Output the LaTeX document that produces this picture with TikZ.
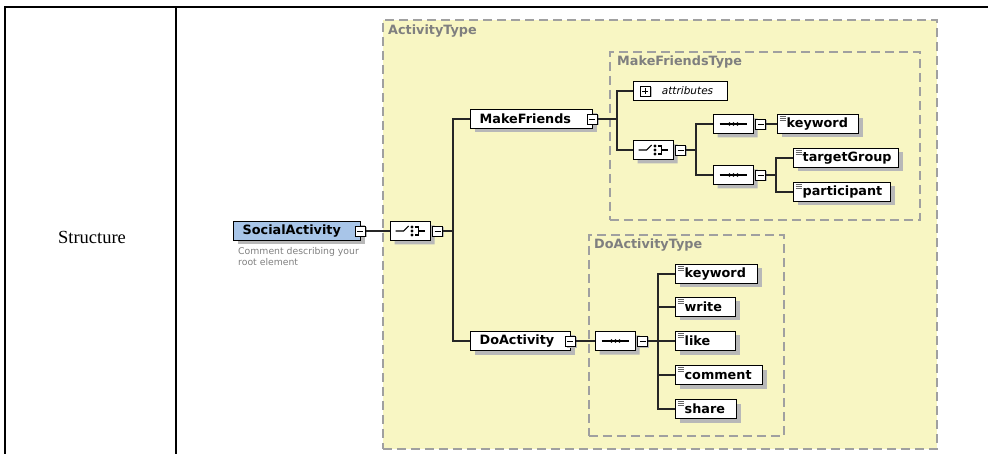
\documentclass[tikz,border=0pt]{standalone}
\usepackage{fontspec}
\setmainfont{Liberation Serif}
\newfontfamily\xsdfont{DejaVu Sans}
\usepackage{tikz}
\usetikzlibrary{shapes.misc,positioning,shadows}
\definecolor{panel}{HTML}{F8F6C3}
\definecolor{dashgray}{HTML}{A0A0A0}
\definecolor{shade}{HTML}{B8B8B8}
\definecolor{rootblue}{HTML}{A8C5E8}
\definecolor{labelgray}{HTML}{7F7F7F}
\newcommand{\leafmark}[1]{%
    % #1=element node, three short bars in its corner
    \foreach \k in {0,1,2}
        \draw[labelgray!80!black, line width=0.9pt] ([shift={(2.5,2.5+2*\k)}]#1.north west) -- ++(6,0);
}

\begin{document}
\begin{tikzpicture}[x=1pt, y=-1pt,
    elem/.style={rectangle, draw, fill=white, line width=1.3pt, anchor=west, text width=#1, align=left, minimum height=19pt, inner ysep=0pt, inner xsep=9pt, font=\xsdfont\bfseries\fontsize{12.8}{14}\selectfont, general shadow={fill=shade, shadow xshift=4pt, shadow yshift=-4pt}},
    attrbox/.style={rectangle, draw, fill=white, line width=1.1pt, anchor=west, minimum width=94pt, minimum height=19pt, inner sep=0pt, font=\xsdfont\itshape\fontsize{10.5}{12}\selectfont},
    minusbox/.style={rectangle, draw, fill=white, line width=0.9pt, minimum size=10pt, inner sep=0pt, general shadow={fill=shade, shadow xshift=1.5pt, shadow yshift=-1.5pt}, path picture={\draw[line width=0.9pt] ([xshift=2pt]path picture bounding box.west) -- ([xshift=-2pt]path picture bounding box.east);}},
    plusbox/.style={minusbox, path picture={\draw[line width=0.9pt] ([xshift=2pt]path picture bounding box.west) -- ([xshift=-2pt]path picture bounding box.east); \draw[line width=0.9pt] ([yshift=-2pt]path picture bounding box.north) -- ([yshift=2pt]path picture bounding box.south);}},
    compbox/.style={chamfered rectangle, chamfered rectangle xsep=7pt, draw, fill=white, line width=1.1pt, anchor=west, minimum width=40pt, minimum height=19pt, inner sep=0pt, general shadow={fill=shade, shadow xshift=4pt, shadow yshift=-4pt}},
    seqbox/.style={compbox, path picture={
        \begin{scope}[shift={(path picture bounding box.center)}]
            \draw[line width=1.2pt] (-14,0) -- (13,0);
            \foreach \d in {-4,0,4} \fill[black] (\d,0) circle (1.9pt);
        \end{scope}}},
    choicebox/.style={compbox, path picture={
        \begin{scope}[shift={(path picture bounding box.center)}, line width=1.1pt]
            \draw (-15,0) -- (-7,0) -- (-2,-5);
            \foreach \d in {-4,0,4} \fill[black] (1.5,\d) circle (1.6pt);
            \draw (4,-4) -- (8,-4) -- (8,4) -- (4,4);
            \draw (8,0) -- (14,0);
        \end{scope}}},
    typebox/.style={rectangle, draw=dashgray, line width=1.6pt, dash pattern=on 9pt off 5pt, anchor=north west, inner sep=0pt},
    typelabel/.style={anchor=north west, inner sep=0pt, text=labelgray, font=\xsdfont\bfseries\fontsize{12.8}{14}\selectfont},
    note/.style={anchor=north west, inner sep=0pt, align=left, text=labelgray, font=\xsdfont\fontsize{9.3}{11.5}\selectfont},
    link/.style={line width=1.3pt, black!85}
]
    \useasboundingbox (0,0) rectangle (988,454);

    % Table frame
    \draw[line width=2pt] (4,7) -- (988,7);
    \draw[line width=2pt] (5,7) -- (5,454);
    \draw[line width=2pt] (176,7) -- (176,454);
    \node[font=\fontsize{18.5}{22}\selectfont] (rowhead) at (92,237) {Structure};

    % Type boxes
    \node[typebox, fill=panel, minimum width=554pt, minimum height=429pt] (acttype) at (382,19) {};
    \node[typelabel] (acttypelbl) at ([shift={(6,6)}]acttype.north west) {ActivityType};
    \node[typebox, minimum width=310pt, minimum height=168pt] (mftype) at (609,51) {};
    \node[typelabel] (mftypelbl) at ([shift={(8,5)}]mftype.north west) {MakeFriendsType};
    \node[typebox, minimum width=195pt, minimum height=201pt] (datype) at (588,234) {};
    \node[typelabel] (datypelbl) at ([shift={(6,5)}]datype.north west) {DoActivityType};

    % Root element
    \node[elem=109pt, fill=rootblue] (root) at (233,231) {SocialActivity};
    \node[minusbox] (rootm) at ([xshift=-1pt]root.east) {};
    \node[note] (rootnote) at (238,247) {Comment describing your\\root element};
    \node[choicebox] (rch) at (390,231) {};
    \node[minusbox, right=1pt of rch] (rchm) {};
    \coordinate (rtrunk) at (453,231);
    \draw[link] (rootm.east) -- (rch.west);
    \draw[link] (rchm.east) -- (rtrunk);

    % MakeFriends
    \node[elem=104pt] (mf) at (470,119) {MakeFriends};
    \node[minusbox] (mfm) at ([xshift=-1pt]mf.east) {};
    \node[attrbox] (attr) at (633,91) {\hspace*{14pt}attributes};
    \node[plusbox] (attrp) at ([xshift=12pt]attr.west) {};
    \node[choicebox] (mfch) at (633,150) {};
    \node[minusbox, right=1pt of mfch] (mfchm) {};
    \node[seqbox] (sq1) at (713,124) {};
    \node[minusbox, right=1pt of sq1] (sq1m) {};
    \node[seqbox] (sq2) at (713,175) {};
    \node[minusbox, right=1pt of sq2] (sq2m) {};
    \node[elem=63pt] (kw1) at (777,124) {keyword};
    \node[elem=87pt] (tg) at (793,158) {targetGroup};
    \node[elem=79pt] (pt) at (793,192) {participant};
    \leafmark{kw1}
    \leafmark{tg}
    \leafmark{pt}

    % DoActivity
    \node[elem=82pt] (da) at (470,341) {DoActivity};
    \node[minusbox] (dam) at ([xshift=-1pt]da.east) {};
    \node[seqbox] (dsq) at (595,341) {};
    \node[minusbox, right=1pt of dsq] (dsqm) {};
    \node[elem=64pt] (dk) at (675,274) {keyword};
    \node[elem=42pt] (dw) at (675,307) {write};
    \node[elem=42pt] (dl) at (675,341) {like};
    \node[elem=69pt] (dc) at (675,375) {comment};
    \node[elem=43pt] (ds) at (675,409) {share};
    \leafmark{dk}
    \leafmark{dw}
    \leafmark{dl}
    \leafmark{dc}
    \leafmark{ds}

    % Connections — root
    \draw[link] (rtrunk) |- (mf.west);
    \draw[link] (rtrunk) |- (da.west);

    % Connections — MakeFriends
    \coordinate (mftrunk) at (617,119);
    \draw[link] (mfm.east) -- (mftrunk);
    \draw[link] (mftrunk) |- (attr.west);
    \draw[link] (mftrunk) |- (mfch.west);
    \coordinate (chtrunk) at (696,150);
    \draw[link] (mfchm.east) -- (chtrunk);
    \draw[link] (chtrunk) |- (sq1.west);
    \draw[link] (chtrunk) |- (sq2.west);
    \draw[link] (sq1m.east) -- (kw1.west);
    \coordinate (sq2trunk) at (776,175);
    \draw[link] (sq2m.east) -- (sq2trunk);
    \draw[link] (sq2trunk) |- (tg.west);
    \draw[link] (sq2trunk) |- (pt.west);

    % Connections — DoActivity
    \draw[link] (dam.east) -- (dsq.west);
    \coordinate (dtrunk) at (658,341);
    \draw[link] (dsqm.east) -- (dtrunk);
    \draw[link] (dtrunk) |- (dk.west);
    \draw[link] (dtrunk) |- (dw.west);
    \draw[link] (dtrunk) |- (dl.west);
    \draw[link] (dtrunk) |- (dc.west);
    \draw[link] (dtrunk) |- (ds.west);
\end{tikzpicture}
\end{document}
